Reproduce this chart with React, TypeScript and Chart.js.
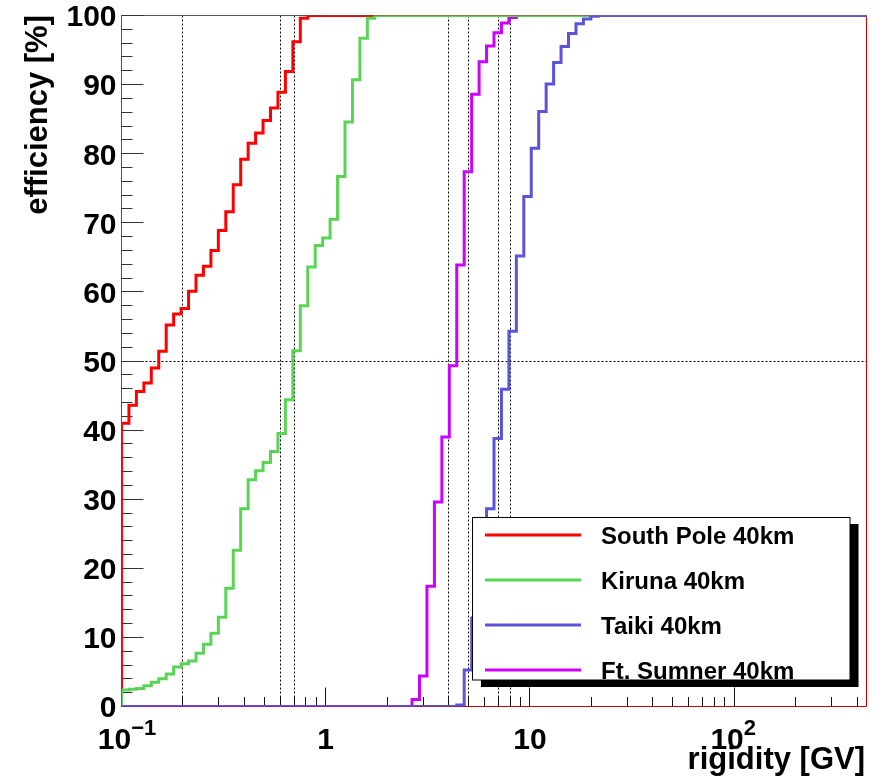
import React, { useEffect, useRef } from "react";
import { Chart, registerables } from "chart.js";

Chart.register(...registerables);

// Histogram binning: 100 logarithmic bins spanning the rigidity axis.
const X_MIN = 0.1;
const X_MAX = 445;
const BIN_COUNT = 100;

// Cumulative efficiency [%] per bin, starting at the first non-empty bin.
// After the last listed bin each curve stays at 100 %.
const southPoleFirstBin = 0;
const southPoleValues = [
  41.0, 43.6, 45.6, 46.8, 49.0, 51.4, 55.2, 56.8, 57.6, 60.1, 62.4, 63.7, 66.0,
  68.9, 71.6, 75.5, 79.2, 81.5, 83.0, 84.8, 86.6, 88.9, 91.9, 96.2, 99.6,
];

const kirunaFirstBin = 0;
const kirunaValues = [
  2.4, 2.5, 2.6, 3.0, 3.5, 4.0, 4.7, 5.7, 6.2, 6.6, 7.7, 9.0, 10.6, 12.9, 17.1,
  22.6, 28.6, 32.8, 34.1, 35.3, 36.9, 39.5, 44.4, 51.5, 58.0, 63.6, 66.7, 67.8,
  70.5, 76.7, 84.6, 90.7, 96.7, 99.6,
];

const taikiFirstBin = 45;
const taikiValues = [
  0.2, 5.3, 12.8, 20.5, 28.6, 38.8, 45.9, 54.3, 65.2, 73.8, 80.8, 86.1, 90.1,
  93.2, 95.5, 97.4, 98.8, 99.5, 99.9,
];

const ftSumnerFirstBin = 39;
const ftSumnerValues = [
  1.0, 4.4, 17.4, 29.6, 39.0, 49.3, 63.9, 77.4, 88.6, 93.3, 95.6, 97.5, 98.9,
  99.7,
];

const seriesNames = [
  "South Pole 40km",
  "Kiruna 40km",
  "Taiki 40km",
  "Ft. Sumner 40km",
];
const seriesColors = ["#ff0000", "#59d454", "#5954d9", "#cc00ff"];
// Lower number is painted later (on top).
const seriesOrder = [2, 1, 0, 3];

// Axis ticks and labels.
const yMajorTicks = [0, 10, 20, 30, 40, 50, 60, 70, 80, 90, 100];
const yMinorTicks = [
  2, 4, 6, 8, 12, 14, 16, 18, 22, 24, 26, 28, 32, 34, 36, 38, 42, 44, 46, 48,
  52, 54, 56, 58, 62, 64, 66, 68, 72, 74, 76, 78, 82, 84, 86, 88, 92, 94, 96, 98,
];
const yTickLabels = ["0", "10", "20", "30", "40", "50", "60", "70", "80", "90", "100"];

const xMajorTicks = [0.1, 1, 10, 100];
const xTickBase = ["10", "1", "10", "10"];
const xTickExponent = ["\u22121", "", "", "2"];
const xMinorTicks = [
  0.2, 0.3, 0.4, 0.5, 0.6, 0.7, 0.8, 0.9, 2, 3, 4, 5, 6, 7, 8, 9, 20, 30, 40,
  50, 60, 70, 80, 90, 200, 300, 400,
];

// Reference cut lines (dotted).
const cutLinesX = [0.2, 0.6, 0.7, 4, 5, 7, 8];
const cutLinesY = [50];

const FONT = '"Liberation Sans", Arial, Helvetica, sans-serif';

function binEdge(i: number): number {
  return X_MIN * Math.pow(X_MAX / X_MIN, i / BIN_COUNT);
}

function histogramPoints(firstBin: number, values: number[]) {
  const pts: { x: number; y: number }[] = [{ x: X_MIN, y: 0 }];
  values.forEach((v, k) => pts.push({ x: binEdge(firstBin + k), y: v }));
  pts.push({ x: binEdge(firstBin + values.length), y: 100 });
  pts.push({ x: X_MAX, y: 100 });
  return pts;
}

const rootStylePlugin = {
  id: "rootStyle",
  beforeDatasetsDraw(chart: any) {
    const { ctx, chartArea } = chart;
    const xs = chart.scales.x;
    const ys = chart.scales.y;
    const { left, right, top, bottom } = chartArea;
    const snap = (v: number) => Math.round(v - 0.5) + 0.5;

    ctx.save();
    // dotted cut lines
    ctx.strokeStyle = "#000";
    ctx.lineWidth = 1;
    ctx.setLineDash([2, 2]);
    cutLinesX.forEach((v) => {
      const px = snap(xs.getPixelForValue(v));
      ctx.beginPath();
      ctx.moveTo(px, top);
      ctx.lineTo(px, bottom);
      ctx.stroke();
    });
    cutLinesY.forEach((v) => {
      const py = snap(ys.getPixelForValue(v));
      ctx.beginPath();
      ctx.moveTo(left, py);
      ctx.lineTo(right, py);
      ctx.stroke();
    });
    ctx.setLineDash([]);

    // frame
    ctx.strokeStyle = "#555";
    ctx.beginPath();
    ctx.moveTo(left, bottom);
    ctx.lineTo(left, top);
    ctx.lineTo(right, top);
    ctx.stroke();
    ctx.strokeStyle = "#c80000";
    ctx.beginPath();
    ctx.moveTo(left, bottom);
    ctx.lineTo(right, bottom);
    ctx.lineTo(right, top);
    ctx.stroke();

    // y ticks (inside)
    ctx.strokeStyle = "#333";
    yMajorTicks.forEach((v) => {
      const py = snap(ys.getPixelForValue(v));
      ctx.beginPath();
      ctx.moveTo(left, py);
      ctx.lineTo(left + 22, py);
      ctx.stroke();
    });
    yMinorTicks.forEach((v) => {
      const py = snap(ys.getPixelForValue(v));
      ctx.beginPath();
      ctx.moveTo(left, py);
      ctx.lineTo(left + 11, py);
      ctx.stroke();
    });
    // x ticks (inside)
    ctx.strokeStyle = "#111";
    xMajorTicks.forEach((v) => {
      const px = snap(xs.getPixelForValue(v));
      ctx.beginPath();
      ctx.moveTo(px, bottom);
      ctx.lineTo(px, bottom - 19);
      ctx.stroke();
    });
    xMinorTicks.forEach((v) => {
      const px = snap(xs.getPixelForValue(v));
      ctx.beginPath();
      ctx.moveTo(px, bottom);
      ctx.lineTo(px, bottom - 9.5);
      ctx.stroke();
    });
    ctx.restore();
  },
  afterDraw(chart: any) {
    const { ctx, chartArea } = chart;
    const xs = chart.scales.x;
    const ys = chart.scales.y;
    ctx.save();
    ctx.fillStyle = "#000";

    // y tick labels
    ctx.font = `bold 30px ${FONT}`;
    ctx.textAlign = "right";
    ctx.textBaseline = "alphabetic";
    yMajorTicks.forEach((v, i) => {
      const py = ys.getPixelForValue(v);
      ctx.fillText(yTickLabels[i], chartArea.left - 5, py + 10.8);
    });

    // x tick labels (with exponents)
    xMajorTicks.forEach((v, i) => {
      const px = xs.getPixelForValue(v);
      const base = xTickBase[i];
      const exp = xTickExponent[i];
      ctx.font = `bold 30px ${FONT}`;
      if (!exp) {
        ctx.textAlign = "center";
        ctx.fillText(base, px, 749);
      } else {
        ctx.textAlign = "center";
        const bx = px - 7;
        ctx.fillText(base, bx, 749);
        const bw = ctx.measureText(base).width;
        ctx.font = `bold 22px ${FONT}`;
        ctx.textAlign = "left";
        ctx.fillText(exp, bx + bw / 2, 735);
      }
    });

    // axis titles
    ctx.font = `bold 31px ${FONT}`;
    ctx.textAlign = "right";
    ctx.fillText("rigidity [GV]", 865, 769);
    ctx.save();
    ctx.translate(47, 15);
    ctx.rotate(-Math.PI / 2);
    ctx.textAlign = "right";
    ctx.fillText("efficiency [%]", 0, 0);
    ctx.restore();

    // legend
    const bx = 472.5;
    const by = 517.5;
    const bw = 377.5;
    const bh = 162.5;
    ctx.fillStyle = "#000";
    ctx.fillRect(bx + 8.5, by + 6.5, bw, bh + 0.5);
    ctx.fillStyle = "#fff";
    ctx.fillRect(bx, by, bw, bh);
    ctx.strokeStyle = "#000";
    ctx.lineWidth = 1;
    ctx.strokeRect(bx, by, bw, bh);
    seriesNames.forEach((name, i) => {
      const ly = 535 + 45 * i;
      ctx.strokeStyle = seriesColors[i];
      ctx.lineWidth = 3;
      ctx.beginPath();
      ctx.moveTo(485, ly);
      ctx.lineTo(581, ly);
      ctx.stroke();
      ctx.fillStyle = "#000";
      ctx.font = `bold 24px ${FONT}`;
      ctx.textAlign = "left";
      ctx.textBaseline = "alphabetic";
      ctx.fillText(name, 601, ly + 8.5);
    });
    ctx.restore();
  },
};

export default function App() {
  const canvasRef = useRef<HTMLCanvasElement | null>(null);

  useEffect(() => {
    document.body.style.margin = "0";
    const canvas = canvasRef.current;
    if (!canvas) return;

    const sources = [
      [southPoleFirstBin, southPoleValues],
      [kirunaFirstBin, kirunaValues],
      [taikiFirstBin, taikiValues],
      [ftSumnerFirstBin, ftSumnerValues],
    ] as [number, number[]][];

    const datasets = sources.map(([first, values], i) => ({
      label: seriesNames[i],
      data: histogramPoints(first, values),
      borderColor: seriesColors[i],
      backgroundColor: seriesColors[i],
      borderWidth: 3,
      pointRadius: 0,
      pointHoverRadius: 0,
      stepped: "before" as const,
      fill: false,
      tension: 0,
      order: seriesOrder[i],
      borderJoinStyle: "miter" as const,
      borderCapStyle: "butt" as const,
    }));

    const chart = new Chart(canvas, {
      type: "line",
      data: { datasets },
      options: {
        responsive: false,
        animation: false,
        parsing: true,
        layout: {
          padding: { left: 121.5, right: 16.5, top: 15.5, bottom: 71.5 },
        },
        scales: {
          x: { type: "logarithmic", min: X_MIN, max: X_MAX, display: false },
          y: { type: "linear", min: 0, max: 100, display: false },
        },
        plugins: {
          legend: { display: false },
          tooltip: { enabled: false },
        },
        events: [],
      },
      plugins: [rootStylePlugin],
    });

    return () => chart.destroy();
  }, []);

  return (
    <div style={{ width: 883, height: 778, background: "#fff" }}>
      <canvas ref={canvasRef} width={883} height={778} />
    </div>
  );
}
